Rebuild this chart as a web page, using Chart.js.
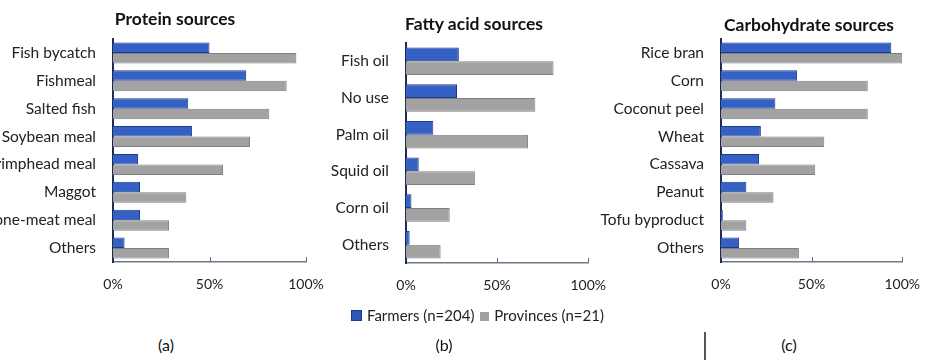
<!DOCTYPE html>
<html>
<head>
<meta charset="utf-8">
<script src="https://cdn.jsdelivr.net/npm/chart.js@4.4.1/dist/chart.umd.min.js"></script>
<style>
  html, body { margin:0; padding:0; width:934px; height:360px; overflow:hidden; background:#fff; font-family: Lato, "Liberation Sans", sans-serif; }
  canvas { position:absolute; top:0; }
  .lbl { position:absolute; font-size:16px; color:#111; transform:translateX(-50%); white-space:nowrap; }
  .ttl { position:absolute; font-size:17.5px; font-weight:bold; color:#111; transform:translate(-50%,-50%); white-space:nowrap; }
  #legend { position:absolute; top:306px; left:351px; font-size:15px; color:#222; white-space:nowrap; }
  #legend span.sw { display:inline-block; width:9px; height:9px; margin-right:5px; vertical-align:0px; }
  #vline { position:absolute; left:704px; top:332px; width:1.5px; height:28px; background:#555; }
</style>
</head>
<body>
<canvas id="ca" width="340" height="300" style="left:0px"></canvas>
<canvas id="cb" width="300" height="300" style="left:320px"></canvas>
<canvas id="cc" width="339" height="300" style="left:595px"></canvas>
<div class="ttl" style="left:175px;top:18px">Protein sources</div>
<div class="ttl" style="left:474px;top:23px">Fatty acid sources</div>
<div class="ttl" style="left:809px;top:24px">Carbohydrate sources</div>
<div id="legend"><span class="sw" style="background:#2f56b8;border:0.5px solid #1c3a8c"></span>Farmers (n=204) <span class="sw" style="background:#a0a0a0;margin-left:2px"></span>Provinces (n=21)</div>
<div class="lbl" style="left:166px;top:335px">(a)</div>
<div class="lbl" style="left:444px;top:335px">(b)</div>
<div class="lbl" style="left:789px;top:335px">(c)</div>
<div id="vline"></div>
<script>
// ---- data ----
const seriesNames = ['Farmers (n=204)', 'Provinces (n=21)'];
const xTickValues = [0, 50, 100];

const proteinLabels = ['Fish bycatch','Fishmeal','Salted fish','Soybean meal','Shrimphead meal','Maggot','Bone-meat meal','Others'];
const proteinFarmers = [50, 69, 39, 41, 13, 14, 14, 6];
const proteinProvinces = [95, 90, 81, 71, 57, 38, 29, 29];

const fattyLabels = ['Fish oil','No use','Palm oil','Squid oil','Corn oil','Others'];
const fattyFarmers = [29, 28, 15, 7, 3, 2];
const fattyProvinces = [81, 71, 67, 38, 24, 19];

const carbLabels = ['Rice bran','Corn','Coconut peel','Wheat','Cassava','Peanut','Tofu byproduct','Others'];
const carbFarmers = [94, 42, 30, 22, 21, 14, 1, 10];
const carbProvinces = [100, 81, 81, 57, 52, 29, 14, 43];

// ---- chart ----
Chart.defaults.font.family = 'Lato, "Liberation Sans", sans-serif';
Chart.defaults.color = '#222';

const innerTicks = {
  id: 'innerTicks',
  afterDraw(chart) {
    const x = chart.scales.x, ctx = chart.ctx;
    ctx.save();
    ctx.strokeStyle = '#5f6f80';
    ctx.lineWidth = 1;
    x.ticks.forEach(t => {
      if (t.value === 0) return;
      const px = Math.round(x.getPixelForValue(t.value)) + 0.5;
      ctx.beginPath();
      ctx.moveTo(px, x.top);
      ctx.lineTo(px, x.top - 5);
      ctx.stroke();
    });
    ctx.restore();
  }
};

function makeChart(id, labels, farmers, provinces, lay) {
  return new Chart(document.getElementById(id), {
    type: 'bar',
    data: {
      labels: labels,
      datasets: [
        { label: seriesNames[0], data: farmers, backgroundColor: '#3560c4', borderColor: '#1c3a8c', borderWidth: 1 },
        { label: seriesNames[1], data: provinces, backgroundColor: '#a2a2a2', borderColor: '#808080', borderWidth: 1 }
      ]
    },
    options: {
      indexAxis: 'y',
      responsive: false,
      animation: false,
      categoryPercentage: 0.75,
      barPercentage: 1.0,
      layout: { padding: { left: 0, right: lay.pr, top: lay.pt, bottom: lay.pb } },
      plugins: {
        legend: { display: false },
        tooltip: { enabled: false },
        title: { display: false }
      },
      scales: {
        x: {
          min: 0, max: 100, z: 1,
          afterBuildTicks(scale) { scale.ticks = xTickValues.map(v => ({ value: v })); },
          afterFit(scale) { scale.height = 30; },
          ticks: { callback: v => v + '%', padding: 14, font: { size: 14 }, color: '#222' },
          grid: { display: false, drawTicks: false },
          border: { display: true, color: '#6a7a8a', width: 1.5 }
        },
        y: {
          z: 1,
          afterFit(scale) { scale.width = lay.yw; },
          ticks: { padding: 17, font: { size: 15.5 }, color: '#222' },
          grid: { display: false, drawTicks: false },
          border: { display: true, color: '#1c2c55', width: 2 }
        }
      }
    },
    plugins: [innerTicks]
  });
}

makeChart('ca', proteinLabels, proteinFarmers, proteinProvinces, { pr: 34, pt: 39, pb: 8, yw: 113 });
makeChart('cb', fattyLabels, fattyFarmers, fattyProvinces, { pr: 28, pt: 43, pb: 7, yw: 86 });
makeChart('cc', carbLabels, carbFarmers, carbProvinces, { pr: 31, pt: 39, pb: 8, yw: 126 });
</script>
</body>
</html>
